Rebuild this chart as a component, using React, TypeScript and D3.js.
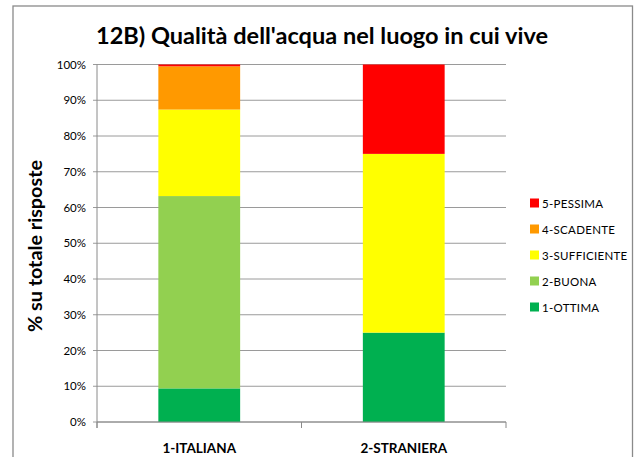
import React from "react";
import * as d3 from "d3";

const categories = ["1-ITALIANA", "2-STRANIERA"];
const seriesNames = ["1-OTTIMA", "2-BUONA", "3-SUFFICIENTE", "4-SCADENTE", "5-PESSIMA"];
const seriesColors = ["#00B050", "#92D050", "#FFFF00", "#FF9900", "#FF0000"];
const ottima = [9.4, 25];
const buona = [53.8, 0];
const sufficiente = [24.2, 50];
const scadente = [12.1, 0];
const pessima = [0.5, 25];
const yTicks = [0, 10, 20, 30, 40, 50, 60, 70, 80, 90, 100];

const FONT = "Lato, 'Open Sans', 'DejaVu Sans', sans-serif";

export default function App() {
  const W = 642, H = 457;
  const x0 = 97, x1 = 506, yTop = 64.5, yBot = 422;
  const x = d3.scaleBand().domain(categories).range([x0, x1]).paddingInner(0.6).paddingOuter(0.3);
  const y = d3.scaleLinear().domain([0, 100]).range([yBot, yTop]);
  const rows = categories.map((c, i) => ({
    cat: c,
    "1-OTTIMA": ottima[i],
    "2-BUONA": buona[i],
    "3-SUFFICIENTE": sufficiente[i],
    "4-SCADENTE": scadente[i],
    "5-PESSIMA": pessima[i],
  }));
  const stacked = d3.stack<any>().keys(seriesNames)(rows);
  const step = (x1 - x0) / categories.length;
  const boundaries = d3.range(categories.length + 1).map((i) => x0 + i * step);

  return (
    <svg width={W} height={H} style={{ position: "absolute", left: 0, top: 0, background: "#fff" }} fontFamily={FONT}>
      <rect x={0} y={0} width={W} height={H} fill="#fff" />
      <rect x={13} y={6} width={619.5} height={470} fill="#fff" stroke="#8a8a8a" strokeWidth={1.3} />
      <text x={322} y={44} textAnchor="middle" fontSize={23.5} fontWeight="bold" fill="#000" textLength={452} lengthAdjust="spacingAndGlyphs">
        12B) Qualità dell'acqua nel luogo in cui vive
      </text>
      {yTicks.map((t) => (
        <g key={t}>
          <line x1={x0 - 4} x2={x1} y1={y(t)} y2={y(t)} stroke="#9a9a9a" strokeWidth={1} />
          <text x={86} y={y(t) + 4} textAnchor="end" fontSize={11.5} fill="#000">{t}%</text>
        </g>
      ))}
      {stacked.map((s, si) => (
        <g key={s.key} fill={seriesColors[si]}>
          {s.map((d, i) => (
            <rect key={i} x={x(categories[i])} width={x.bandwidth()} y={y(d[1])} height={Math.max(0, y(d[0]) - y(d[1]))} />
          ))}
        </g>
      ))}
      <line x1={x0} x2={x0} y1={yTop} y2={yBot + 6} stroke="#8a8a8a" strokeWidth={1} />
      <line x1={x0} x2={x1} y1={yBot} y2={yBot} stroke="#8a8a8a" strokeWidth={1} />
      {boundaries.map((b, i) => (
        <line key={i} x1={b} x2={b} y1={yBot} y2={yBot + 6} stroke="#8a8a8a" strokeWidth={1} />
      ))}
      {categories.map((c) => (
        <text key={c} x={(x(c) as number) + x.bandwidth() / 2} y={453} textAnchor="middle" fontSize={13.5} fontWeight="bold" fill="#000">{c}</text>
      ))}
      <text transform="translate(42,246) rotate(-90)" textAnchor="middle" fontSize={18} fontWeight="bold" fill="#000" textLength={172} lengthAdjust="spacingAndGlyphs">% su totale risposte</text>
      {seriesNames.slice().reverse().map((n, i) => {
        const si = seriesNames.length - 1 - i;
        const cy = 203 + i * 26;
        return (
          <g key={n}>
            <rect x={530} y={cy - 4.5} width={9} height={9} fill={seriesColors[si]} />
            <text x={542} y={cy + 4.5} fontSize={11.5} fill="#000" letterSpacing={0.3}>{n}</text>
          </g>
        );
      })}
    </svg>
  );
}
